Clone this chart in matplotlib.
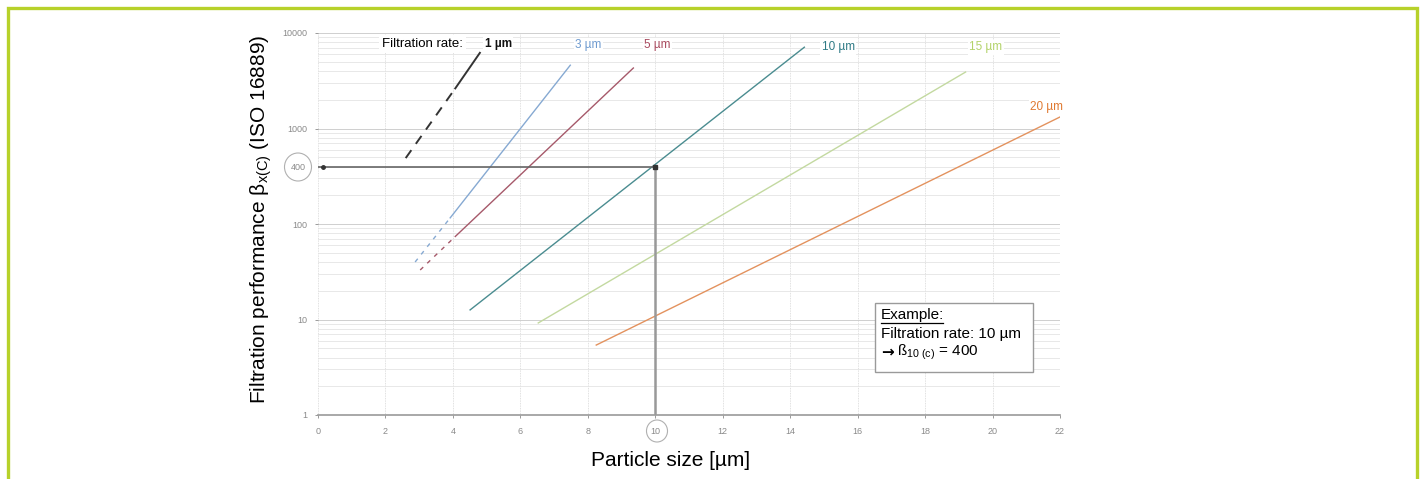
import numpy as np
import matplotlib
matplotlib.use("Agg")
import matplotlib.pyplot as plt
from matplotlib.patches import Rectangle, Ellipse
from matplotlib.lines import Line2D

plt.rcParams["font.family"] = ["Liberation Sans", "DejaVu Sans"]
plt.rcParams["mathtext.fontset"] = "custom"
plt.rcParams["mathtext.rm"] = "Liberation Sans"
plt.rcParams["mathtext.it"] = "Liberation Sans:italic"

# filtration rates and their beta lines (particle size in µm, beta value)
rates = ["1 µm", "3 µm", "5 µm", "10 µm", "15 µm", "20 µm"]
line_x = [
    [2.6, 4.07, 4.8],
    [2.88, 3.92, 7.48],
    [3.03, 4.07, 9.35],
    [4.51, 14.42],
    [6.53, 19.2],
    [8.25, 22.0],
]
line_y = [
    [490, 2630, 6200],
    [40, 116, 4600],
    [33, 74, 4300],
    [12.6, 7100],
    [9.2, 3900],
    [5.4, 1320],
]
label_x = [5.34, 8.01, 10.06, 15.43, 19.8, 21.6]
label_y = [7700, 7400, 7400, 7100, 7100, 1680]

line_colors = ["#333333", "#86a9d2", "#a6596a", "#4a8c90", "#c3d9a0", "#e3925e"]
text_colors = ["#111111", "#6f9bd0", "#a84a5e", "#2f7b86", "#b3d36a", "#e07a32"]

x_ticks = [0, 2, 4, 6, 8, 10, 12, 14, 16, 18, 20, 22]
y_ticks = [1, 10, 100, 1000, 10000]

example_rate = 10
example_beta = 400

W, H = 1424, 479
fig = plt.figure(figsize=(W / 100, H / 100), dpi=100)
ax = fig.add_axes([318 / W, 1 - 415 / H, 742 / W, 382 / H])

ax.set_yscale("log")
ax.set_xlim(0, 22)
ax.set_ylim(1, 10000)

ax.set_xticks(x_ticks)
ax.set_xticklabels([str(t) for t in x_ticks])
ax.set_yticks(y_ticks)
ax.set_yticklabels([str(t) for t in y_ticks])
ax.tick_params(axis="both", labelsize=6.5, colors="#8a8a8a", length=2, width=0.6)
ax.tick_params(axis="y", which="minor", length=0)
ax.tick_params(axis="x", pad=6.5)
ax.tick_params(axis="y", pad=6)

ax.grid(True, axis="x", which="major", color="#d6d6d6", lw=0.6, ls=(0, (1, 1)))
ax.grid(True, axis="y", which="major", color="#cfcfcf", lw=0.7)
ax.grid(True, axis="y", which="minor", color="#e4e4e4", lw=0.6)
for s in ["top", "right", "left"]:
    ax.spines[s].set_visible(False)
ax.spines["bottom"].set_color("#9a9a9a")
ax.spines["bottom"].set_linewidth(1.2)

# beta lines
for i, (xs, ys) in enumerate(zip(line_x, line_y)):
    if len(xs) == 3:
        ax.plot(xs[:2], ys[:2], color=line_colors[i], lw=1.4 if i == 0 else 1.0,
                ls=(0, (5, 4)) if i == 0 else (0, (3, 4)))
        ax.plot(xs[1:], ys[1:], color=line_colors[i], lw=1.4 if i == 0 else 1.0)
    else:
        ax.plot(xs, ys, color=line_colors[i], lw=1.0)
    ax.text(label_x[i], label_y[i], rates[i], color=text_colors[i], fontsize=8.5,
            ha="center", va="center", fontweight="bold" if i == 0 else "normal",
            bbox=dict(facecolor="white", edgecolor="none", pad=1.0))

ax.text(4.30, 7700, "Filtration rate:", fontsize=9.5, ha="right", va="center",
        bbox=dict(facecolor="white", edgecolor="none", pad=2))

# example guide lines
ax.plot([0, example_rate], [example_beta, example_beta], color="#666666", lw=1.2)
ax.plot([example_rate, example_rate], [example_beta, 1], color="#999999", lw=1.8)
ax.plot([0.15], [example_beta], marker="o", ms=2.5, color="#333333")
ax.plot([example_rate], [example_beta], marker="s", ms=3, color="#333333")

# circled labels for 400 and 10
fig.text(298 / W, 1 - 167 / H, str(example_beta), fontsize=6.5, color="#8a8a8a",
         ha="center", va="center")
fig.add_artist(Ellipse((298 / W, 1 - 167 / H), 27 / W, 28 / H,
                       transform=fig.transFigure, fill=False, ec="#b0b0b0", lw=0.8))
fig.add_artist(Ellipse((657 / W, 1 - 431 / H), 21 / W, 22 / H,
                       transform=fig.transFigure, fill=False, ec="#b0b0b0", lw=0.8))

# example box
fig.add_artist(Rectangle((875 / W, 1 - 372 / H), 158 / W, 69 / H,
                         transform=fig.transFigure, fc="white", ec="#9a9a9a", lw=1.0))
fig.text(881 / W, 1 - 315 / H, "Example:", fontsize=11, ha="left", va="center")
fig.add_artist(Line2D([881 / W, 943 / W], [1 - 323 / H, 1 - 323 / H],
                      transform=fig.transFigure, color="black", lw=0.9))
fig.text(881 / W, 1 - 334 / H, "Filtration rate: 10 µm", fontsize=11, ha="left", va="center")
fig.text(881 / W, 1 - 352 / H, "→", fontsize=11, ha="left", va="center",
         family="DejaVu Sans", fontweight="bold")
fig.text(897 / W, 1 - 352 / H, r"ß$_{\mathrm{10\ (c)}}$ = 400", fontsize=11,
         ha="left", va="center")

# axis labels
fig.text(261 / W, 1 - 219 / H,
         r"Filtration performance $\mathrm{\beta}_{\mathrm{x(C)}}$ (ISO 16889)",
         rotation=90, ha="center", va="center", fontsize=15)
fig.text(671 / W, 1 - 461 / H, "Particle size [µm]", ha="center", va="center",
         fontsize=15)

# green frame
fig.add_artist(Rectangle((8 / W, -0.05), 1409 / W, 1 - 8 / H + 0.05,
                         transform=fig.transFigure, fill=False, ec="#b7d12a", lw=2.4))

fig.savefig("out.png", dpi=100)
